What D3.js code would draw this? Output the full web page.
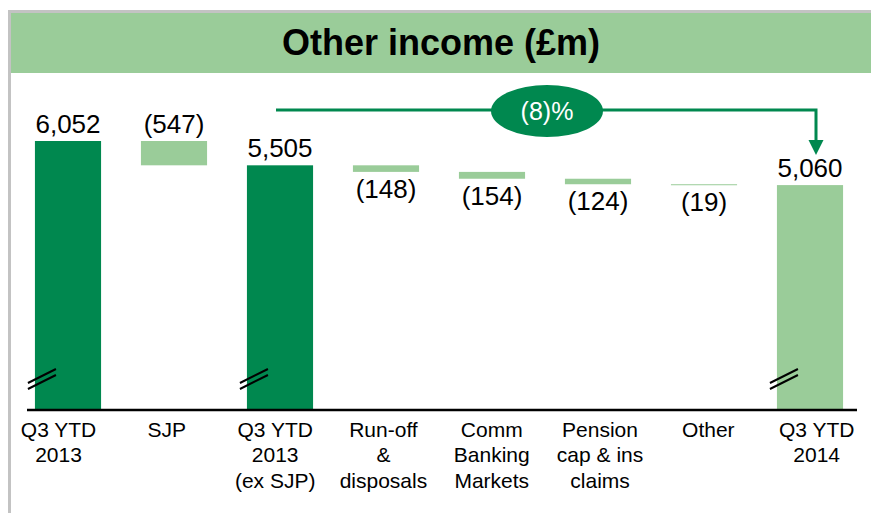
<!DOCTYPE html>
<html lang="en">
<head>
  <meta charset="UTF-8" />
  <title>Other income (£m)</title>
  <script src="https://d3js.org/d3.v7.min.js"></script>
  <style>
    body { margin: 0; background: white; font-family: "Liberation Sans", Arial, sans-serif; }
    svg { display: block; }
  </style>
</head>
<body>
<svg width="871" height="513"></svg>
<script>
// waterfall data
const categories = ["Q3 YTD 2013", "SJP", "Q3 YTD 2013 (ex SJP)", "Run-off & disposals",
  "Comm Banking Markets", "Pension cap & ins claims", "Other", "Q3 YTD 2014"];
const labelLines = [
  ["Q3 YTD", "2013"], ["SJP"], ["Q3 YTD", "2013", "(ex SJP)"], ["Run-off", "&", "disposals"],
  ["Comm", "Banking", "Markets"], ["Pension", "cap & ins", "claims"], ["Other"], ["Q3 YTD", "2014"]
];
const values = [6052, -547, 5505, -148, -154, -124, -19, 5060];
const kinds = ["total", "delta", "total", "delta", "delta", "delta", "delta", "total"];

const dark = "#00884f", light = "#9acc99";

// running totals -> bar start/end
let run = 0;
const bars = values.map((v, i) => {
  let lo, hi;
  if (kinds[i] === "total") { lo = 0; hi = v; run = v; }
  else { hi = run; lo = run + v; run = lo; }
  return { cat: categories[i], v, kind: kinds[i], lo, hi, i };
});

const svg = d3.select("svg");

// frame + title banner
svg.append("rect").attr("x", 8).attr("y", 10).attr("width", 863).attr("height", 3).attr("fill", "#c3c3c3");
svg.append("rect").attr("x", 8).attr("y", 10).attr("width", 3).attr("height", 503).attr("fill", "#c3c3c3");
svg.append("rect").attr("x", 11).attr("y", 13).attr("width", 860).attr("height", 60).attr("fill", light);
svg.append("text").attr("x", 441).attr("y", 55).attr("text-anchor", "middle")
  .attr("font-size", 36).attr("font-weight", "bold").text("Other income (£m)");

const baseY = 410;
const x = d3.scaleBand().domain(categories).range([15, 863]).paddingInner(0.376).paddingOuter(0.188);
const xLab = d3.scaleBand().domain(categories).range([4.4, 870.8]);
const y = d3.scaleLinear().domain([0, d3.max(values)]).range([baseY, 141]);
const bw = x.bandwidth();

const colorOf = d => d.kind === "delta" ? light : (d.i === bars.length - 1 ? light : dark);

svg.append("g").selectAll("rect").data(bars).join("rect")
  .attr("x", d => x(d.cat))
  .attr("y", d => y(d.hi))
  .attr("width", bw)
  .attr("height", d => Math.max(1, y(d.lo) - y(d.hi)))
  .attr("fill", colorOf);

// break marks on the total bars
const brk = svg.append("g").attr("stroke", "#000").attr("stroke-width", 2);
bars.filter(d => d.kind === "total").forEach(d => {
  const x0 = x(d.cat);
  [0, 6].forEach(off => {
    brk.append("line")
      .attr("x1", x0 - 7).attr("y1", baseY - 27 + off)
      .attr("x2", x0 + 21).attr("y2", baseY - 41 + off);
  });
});

// baseline
svg.append("line").attr("x1", 27).attr("x2", 857).attr("y1", baseY).attr("y2", baseY)
  .attr("stroke", "#000").attr("stroke-width", 2.5);

// value labels
const fmt = v => v < 0 ? `(${d3.format(",")(-v)})` : d3.format(",")(v);
svg.append("g").selectAll("text").data(bars).join("text")
  .attr("x", d => x(d.cat) + bw / 2)
  .attr("y", d => (d.kind === "total" || d.i === 1) ? y(d.hi) - 8 : y(d.lo) + 26)
  .attr("text-anchor", "middle")
  .attr("font-size", 26)
  .text(d => fmt(d.v));

// category labels
svg.append("g").selectAll("text").data(bars).join("text")
  .attr("x", d => xLab(d.cat) + xLab.bandwidth() / 2)
  .attr("y", 436.5)
  .attr("text-anchor", "middle")
  .attr("font-size", 21)
  .selectAll("tspan").data(d => labelLines[d.i].map(t => ({ t, cx: xLab(d.cat) + xLab.bandwidth() / 2 })))
  .join("tspan")
  .attr("x", t => t.cx)
  .attr("dy", (t, j) => j === 0 ? 0 : 25.5)
  .text(t => t.t);

// change arrow from ex-SJP total to 2014 total
const from = bars[2], to = bars[bars.length - 1];
const x1 = x(from.cat) + bw / 2 - 4, x2 = x(to.cat) + bw / 2 + 6, ay = 110;
svg.append("path")
  .attr("d", `M${x1},${ay}H${x2}V${y(to.hi) - 45}`)
  .attr("fill", "none").attr("stroke", dark).attr("stroke-width", 3);
const tipY = y(to.hi) - 30;
svg.append("path")
  .attr("d", `M${x2 - 7.5},${tipY - 15}L${x2 + 7.5},${tipY - 15}L${x2},${tipY}Z`)
  .attr("fill", dark);

const pct = Math.round((to.v / from.v - 1) * 100);
const cx = (x1 + x2) / 2 + 1;
svg.append("ellipse").attr("cx", cx).attr("cy", 111).attr("rx", 56).attr("ry", 26).attr("fill", dark);
svg.append("text").attr("x", cx).attr("y", 119.5).attr("text-anchor", "middle")
  .attr("font-size", 25).attr("fill", "white")
  .text(pct < 0 ? `(${-pct})%` : `${pct}%`);
</script>
</body>
</html>
